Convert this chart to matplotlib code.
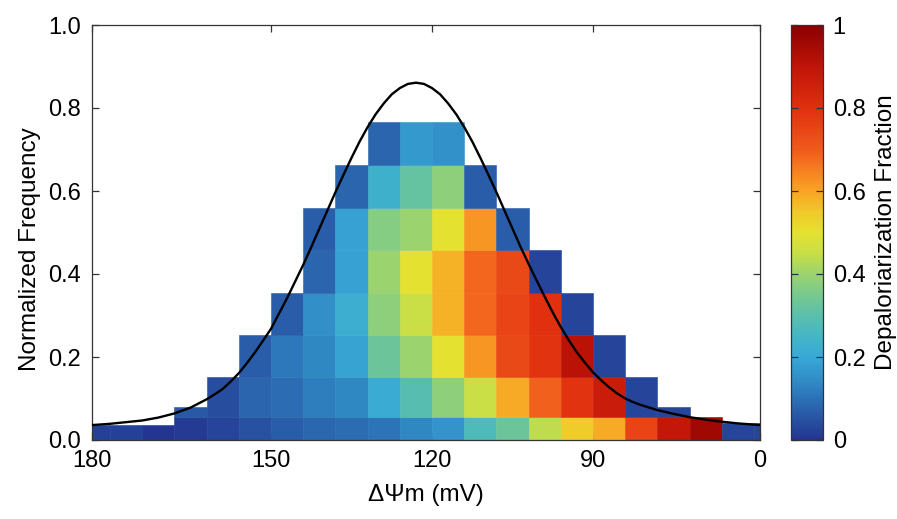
import numpy as np
import matplotlib
matplotlib.use("Agg")
import matplotlib.pyplot as plt
from matplotlib.colors import LinearSegmentedColormap, Normalize
from matplotlib.cm import ScalarMappable

plt.rcParams['font.family'] = ['Liberation Sans', 'DejaVu Sans']

# ---------------- data ----------------
nan = np.nan
bin_centers = [183, 177, 171, 165, 159, 153, 147, 141, 135, 129, 123,
               117, 111, 105, 99, 93, 87, 81, 75, 69, 63, 57]
bin_width = 6
col_heights = [0.036, 0.036, 0.036, 0.080, 0.153, 0.254, 0.355, 0.559, 0.663, 0.766, 0.766,
               0.766, 0.663, 0.559, 0.457, 0.355, 0.254, 0.153, 0.080, 0.055, 0.040, 0.040]
row_edges = [0.0, 0.055, 0.153, 0.254, 0.355, 0.457, 0.559, 0.663, 0.766]

frac_r0 = [0.02, 0.02, 0.00, 0.01, 0.03, 0.05, 0.07, 0.085, 0.09, 0.105, 0.14,
           0.16, 0.27, 0.33, 0.44, 0.54, 0.59, 0.75, 0.89, 0.96, 0.03, 0.03]
frac_r1 = [nan, nan, nan, 0.06, 0.04, 0.08, 0.09, 0.12, 0.14, 0.21, 0.29,
           0.38, 0.45, 0.59, 0.69, 0.79, 0.87, 0.03, 0.03, nan, nan, nan]
frac_r2 = [nan, nan, nan, nan, nan, 0.07, 0.11, 0.14, 0.19, 0.33, 0.40,
           0.50, 0.62, 0.74, 0.79, 0.91, 0.03, nan, nan, nan, nan, nan]
frac_r3 = [nan, nan, nan, nan, nan, nan, 0.07, 0.15, 0.22, 0.38, 0.45,
           0.58, 0.68, 0.75, 0.80, 0.03, nan, nan, nan, nan, nan, nan]
frac_r4 = [nan, nan, nan, nan, nan, nan, nan, 0.08, 0.185, 0.40, 0.50,
           0.58, 0.68, 0.74, 0.03, nan, nan, nan, nan, nan, nan, nan]
frac_r5 = [nan, nan, nan, nan, nan, nan, nan, 0.07, 0.185, 0.37, 0.40,
           0.50, 0.62, 0.07, nan, nan, nan, nan, nan, nan, nan, nan]
frac_r6 = [nan, nan, nan, nan, nan, nan, nan, nan, 0.08, 0.23, 0.32,
           0.38, 0.07, nan, nan, nan, nan, nan, nan, nan, nan, nan]
frac_r7 = [nan, nan, nan, nan, nan, nan, nan, nan, nan, 0.08, 0.17,
           0.155, nan, nan, nan, nan, nan, nan, nan, nan, nan, nan]
frac_rows = [frac_r0, frac_r1, frac_r2, frac_r3, frac_r4, frac_r5, frac_r6, frac_r7]

curve_x = [183.3, 180, 177, 174, 171, 168, 165, 162, 160.5, 159, 157.5, 156, 154.5,
           153, 151.5, 150, 148.5, 147, 145.5, 144, 142.5, 141, 139.5, 138, 136.5,
           135, 133.5, 132, 130.5, 129, 127.5, 126, 124.5, 123, 121.5, 120, 118.5,
           117, 115.5, 114, 112.5, 111, 109.5, 108, 106.5, 105, 103.5, 102, 100.5,
           99, 97.5, 96, 94.5, 93, 91.5, 90, 88.5, 87, 85.5, 84, 82.5, 81, 78, 75,
           72, 69, 66, 63, 60, 58.9]
curve_y = [0.036, 0.039, 0.043, 0.047, 0.054, 0.064, 0.078, 0.098, 0.110, 0.123,
           0.141, 0.161, 0.185, 0.211, 0.239, 0.268, 0.305, 0.342, 0.382, 0.422,
           0.465, 0.509, 0.553, 0.597, 0.639, 0.680, 0.719, 0.754, 0.785, 0.811,
           0.833, 0.848, 0.858, 0.861, 0.858, 0.848, 0.833, 0.811, 0.785, 0.754,
           0.719, 0.680, 0.639, 0.597, 0.553, 0.509, 0.465, 0.424, 0.384, 0.345,
           0.307, 0.272, 0.240, 0.211, 0.186, 0.163, 0.144, 0.127, 0.112, 0.100,
           0.091, 0.084, 0.072, 0.063, 0.055, 0.049, 0.044, 0.040, 0.037, 0.036]

x_tick_labels = ['180', '150', '120', '90', '0']
x_inner_ticks = [150, 120, 90]
y_ticks = [0.0, 0.2, 0.4, 0.6, 0.8, 1.0]
cbar_ticks = [0, 0.2, 0.4, 0.6, 0.8, 1]
cbar_tick_labels = ['0', '0.2', '0.4', '0.6', '0.8', '1']

# ---------------- style ----------------
cmap = LinearSegmentedColormap.from_list('depol', [
    (0.00, '#233590'), (0.05, '#2853a3'), (0.10, '#2c72b6'), (0.15, '#3290c8'),
    (0.20, '#38a9d6'), (0.25, '#45b6c4'), (0.30, '#5cbfac'), (0.35, '#78c98e'),
    (0.40, '#9bd36f'), (0.45, '#c8df45'), (0.50, '#e5e230'), (0.55, '#f0c82a'),
    (0.60, '#f8a424'), (0.65, '#f6801f'), (0.70, '#f05a1c'), (0.80, '#e0300f'),
    (0.90, '#c01408'), (1.00, '#8b0000')])
norm = Normalize(0, 1)
xlim = (183.35, 58.9)
fs_tick = 17
fs_label = 17.5

fig = plt.figure(figsize=(8.97, 5.19), dpi=100)
ax = fig.add_axes([92/897, 79/519, 668/897, 415/519])

centers = np.array(bin_centers, dtype=float)
heights = np.array(col_heights)
for r, vals in enumerate(frac_rows):
    lo, hi = row_edges[r], row_edges[r + 1]
    vals = np.array(vals, dtype=float)
    h = np.clip(heights - lo, 0, hi - lo)
    ok = ~np.isnan(vals) & (h > 0)
    cols = cmap(norm(vals[ok]))
    ax.bar(centers[ok], h[ok], width=bin_width, bottom=lo, color=cols,
           edgecolor=cols, linewidth=0.4, zorder=2)

ax.plot(curve_x, curve_y, color='black', linewidth=1.7, zorder=3)

ax.set_xlim(*xlim)
ax.set_ylim(0, 1.0)
ax.set_xticks([xlim[0]] + x_inner_ticks + [xlim[1]])
ax.set_xticklabels(x_tick_labels)
ax.set_yticks(y_ticks)
ax.set_yticklabels([f'{v:.1f}' for v in y_ticks])
ax.tick_params(direction='in', top=True, right=True, length=5, width=0.9,
               labelsize=fs_tick, color='#333333')
ax.tick_params(axis='y', pad=8)
ax.tick_params(axis='x', pad=7)
for s in ax.spines.values():
    s.set_linewidth(0.9)
    s.set_color('#333333')
ax.set_xlabel('ΔΨm (mV)', fontsize=fs_label, labelpad=9)
ax.set_ylabel('Normalized Frequency', fontsize=fs_label)
ax.yaxis.set_label_coords(-0.077, 0.46)

cax = fig.add_axes([791/897, 79/519, 32/897, 415/519])
cb = fig.colorbar(ScalarMappable(norm=norm, cmap=cmap), cax=cax)
cb.set_ticks(cbar_ticks)
cb.set_ticklabels(cbar_tick_labels)
cax.tick_params(direction='in', left=True, right=True, length=5, width=0.9,
                labelsize=fs_tick, pad=7, color='#333333')
cb.outline.set_linewidth(0.9)
cb.outline.set_edgecolor('#333333')
cb.set_label('Depaloriarization Fraction', fontsize=fs_label, labelpad=7)

fig.savefig('out.png', dpi=100)
